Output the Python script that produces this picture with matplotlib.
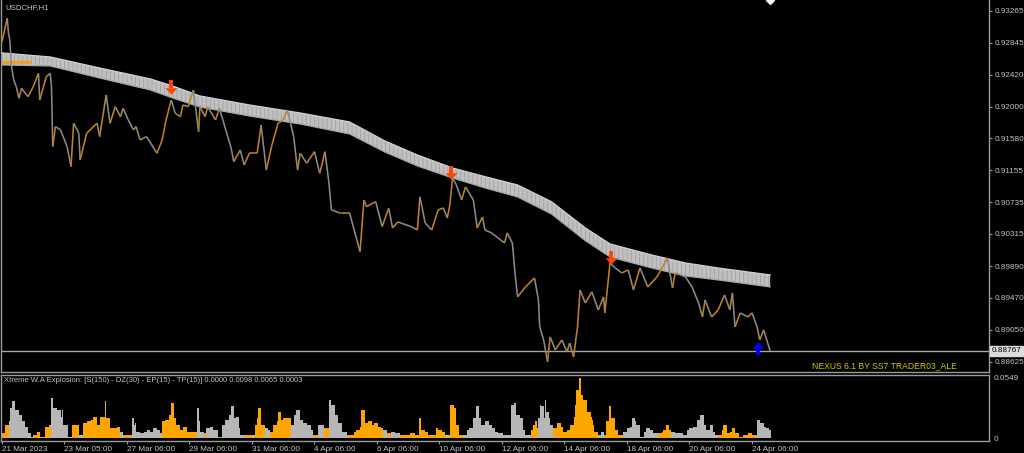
import matplotlib
matplotlib.use("Agg")
import matplotlib.pyplot as plt
import numpy as np
from matplotlib.collections import LineCollection
from matplotlib.path import Path
import matplotlib.transforms as mtransforms

# ---------------- data (bar index on H1 chart, prices) ----------------
symbol_title = "USDCHF,H1"
indicator_title = ("Xtreme W.A Explosion: [S(150) - DZ(30) - EP(15) - TP(15)] "
                   "0.0000 0.0098 0.0065 0.0003")
signature = "NEXUS 6.1 BY SS7 TRADER03_ALE"

price_idx = [0, 4, 5, 6, 7, 9, 11, 13, 15, 20,
             24, 28, 29, 34, 37, 38, 39, 41, 45, 50,
             53, 55, 59, 60, 65, 73, 75, 80, 83, 87,
             91, 93, 97, 101, 103, 106, 111, 119, 123, 126,
             130, 133, 137, 139, 143, 147, 151, 152, 156, 158,
             164, 167, 176, 178, 183, 186, 190, 196, 199, 203,
             207, 212, 216, 219, 221, 224, 227, 229, 234, 240,
             244, 246, 248, 251, 253, 260, 267, 275, 278, 280,
             287, 292, 297,
             300, 304, 315, 319, 321, 325, 330, 335, 339, 342,
             344, 346, 349, 353, 356, 362, 365, 369, 371, 376,
             381, 386, 388, 392, 394, 396, 402, 409, 412, 413,
             416, 419, 421, 425, 430, 434, 436, 439, 442, 444,
             448, 453, 458, 462, 463, 467, 471, 476, 481, 485,
             490, 496, 503, 507, 511, 515, 517, 525, 530, 535,
             538, 540, 545, 550, 555, 559, 561, 563, 567, 573,
             576, 580, 582, 585, 590]
price_close = [0.92859, 0.93169, 0.92970, 0.92882, 0.92574, 0.92353, 0.92264, 0.92110, 0.92243, 0.92132,
               0.92264, 0.92441, 0.92088, 0.92396, 0.92441, 0.92264, 0.91470, 0.91735, 0.91691, 0.91470,
               0.91206, 0.91780, 0.91647, 0.91294, 0.91647, 0.91780, 0.91603, 0.92154, 0.91780, 0.91999,
               0.91867, 0.91978, 0.91823, 0.91691, 0.91735, 0.91559, 0.91603, 0.91383, 0.91559, 0.91823,
               0.92088, 0.91912, 0.91867, 0.92022, 0.91999, 0.92220, 0.91669, 0.91999, 0.91867, 0.91999,
               0.91823, 0.91978, 0.91449, 0.91272, 0.91426, 0.91228, 0.91383, 0.91383, 0.91757, 0.91162,
               0.91470, 0.91780, 0.91823, 0.91956, 0.91823, 0.91603, 0.91162, 0.91383, 0.91251, 0.91404,
               0.91118, 0.91251, 0.91404, 0.91007, 0.90633, 0.90589, 0.90589, 0.90081, 0.90765, 0.90676,
               0.90743, 0.90412, 0.90655,
               0.90395, 0.90474, 0.90408, 0.90368, 0.90805, 0.90461, 0.90368, 0.90633, 0.90659, 0.90527,
               0.90699, 0.91056, 0.90963, 0.90765, 0.90937, 0.90765, 0.90395, 0.90540, 0.90368, 0.90328,
               0.90262, 0.90196, 0.90328, 0.90196, 0.89799, 0.89482, 0.89614, 0.89733, 0.89442, 0.89085,
               0.88913, 0.88622, 0.88953, 0.88781, 0.88913, 0.88754, 0.88873, 0.88688, 0.89085, 0.89574,
               0.89402, 0.89548, 0.89310, 0.89482, 0.89270, 0.89932, 0.89865, 0.89799, 0.89839, 0.89574,
               0.89865, 0.89614, 0.89746, 0.89865, 0.89998, 0.89601, 0.89799, 0.89746, 0.89614, 0.89402,
               0.89217, 0.89442, 0.89217, 0.89310, 0.89508, 0.89310, 0.89535, 0.89085, 0.89270, 0.89217,
               0.89270, 0.89085, 0.88913, 0.89045, 0.88767]

band_idx = [0, 37, 75, 114, 131, 152, 190, 229, 267, 294, 319, 346, 371, 396, 422, 448, 467, 499, 525, 550, 590]
band_upper = [0.92710, 0.92657, 0.92511, 0.92366, 0.92273, 0.92141, 0.92022, 0.91916, 0.91797, 0.91546,
              0.91360, 0.91188, 0.91073, 0.90963, 0.90742, 0.90395, 0.90183, 0.90037, 0.89931, 0.89865, 0.89773]
band_lower = [0.92551, 0.92538, 0.92379, 0.92220, 0.92115, 0.91995, 0.91876, 0.91770, 0.91638, 0.91400,
              0.91215, 0.91056, 0.90924, 0.90805, 0.90580, 0.90227, 0.90011, 0.89865, 0.89759, 0.89707, 0.89614]
ma_start_idx = [0, 22]
ma_start_price = [0.92591, 0.92591]

sell_idx = [130, 345, 468]
sell_price = [0.92260, 0.91129, 0.90004]
buy_idx = [581]
buy_price = [0.88793]
last_price = 0.88767

price_ticks = [0.93265, 0.92845, 0.92420, 0.92000, 0.91580, 0.91155,
               0.90735, 0.90315, 0.89890, 0.89470, 0.89050, 0.88625]
time_tick_idx = [0, 48, 96, 144, 192, 240, 288, 336, 384, 432, 480, 528, 576]
time_tick_labels = ["21 Mar 2023", "23 Mar 05:00", "27 Mar 06:00", "29 Mar 06:00",
                    "31 Mar 06:00", "4 Apr 06:00", "6 Apr 06:00", "10 Apr 06:00",
                    "12 Apr 06:00", "14 Apr 06:00", "18 Apr 06:00", "20 Apr 06:00",
                    "24 Apr 06:00"]

hist_idx = [0, 2, 5, 6, 8, 10, 13, 15, 18, 20, 22, 24, 27, 29, 33, 36, 38, 39, 42, 45,
            46, 47, 50, 51, 54, 56, 59, 62, 65, 68, 70, 73, 75, 79, 80, 83, 85, 88, 91, 93,
            94, 100, 101, 102, 103, 106, 109, 111, 114, 116, 119, 121, 123, 125, 128, 130, 132, 134, 137, 139,
            142, 146, 150, 151, 152, 155, 157, 160, 162, 166, 169, 171, 174, 176, 178, 180, 182, 183, 187, 192,
            194, 196, 197, 199, 202, 204, 206, 208, 211, 212, 214, 216, 219, 222, 224, 226, 229, 231, 234, 237,
            239, 243, 247, 251, 253, 256, 258, 261, 265, 267, 270, 272, 275, 276, 279, 281, 284, 286, 289, 291,
            293, 296, 299, 302, 306, 310, 313, 317, 320, 322, 325, 327, 333, 335, 338, 340, 344, 347, 349, 351,
            354, 357, 359, 362, 364, 366, 368, 371, 374, 376, 379, 381, 385, 389, 391, 393, 395, 398, 400, 402,
            406, 408, 409, 411, 412, 413, 414, 416, 417, 418, 420, 421, 423, 426, 429, 431, 434, 436, 439, 440,
            441, 443, 445, 446, 449, 452, 453, 454, 455, 458, 460, 462, 464, 466, 468, 471, 473, 477, 480, 482,
            484, 486, 487, 490, 493, 495, 498, 500, 504, 507, 508, 510, 512, 514, 517, 521, 523, 526, 528, 531,
            534, 536, 539, 541, 544, 546, 548, 550, 553, 554, 557, 559, 561, 563, 566, 569, 573, 576, 580, 582,
            585, 587, 589]
hist_value = [0.0046, 0.0122, 0.0153, 0.0275, 0.0336, 0.0259, 0.0214, 0.0153, 0.0107, 0.0046,
              0.0015, 0.0031, 0.0061, 0.0015, 0.0107, 0.0122, 0.0366, 0.0275, 0.0259, 0.0198,
              0.0259, 0.0122, 0.0122, 0.0015, 0.0122, 0.0122, 0.0031, 0.0137, 0.0153, 0.0168,
              0.0198, 0.0122, 0.0198, 0.0336, 0.0183, 0.0092, 0.0092, 0.0107, 0.0061, 0.0031,
              0.0031, 0.0183, 0.0122, 0.0137, 0.0061, 0.0046, 0.0061, 0.0076, 0.0061, 0.0092,
              0.0076, 0.0046, 0.0153, 0.0168, 0.0214, 0.0320, 0.0183, 0.0122, 0.0076, 0.0107,
              0.0061, 0.0061, 0.0275, 0.0153, 0.0061, 0.0046, 0.0092, 0.0107, 0.0076, 0.0015,
              0.0122, 0.0168, 0.0214, 0.0290, 0.0183, 0.0198, 0.0092, 0.0031, 0.0031, 0.0031,
              0.0122, 0.0183, 0.0275, 0.0122, 0.0092, 0.0076, 0.0061, 0.0122, 0.0153, 0.0244,
              0.0168, 0.0183, 0.0183, 0.0122, 0.0214, 0.0259, 0.0168, 0.0137, 0.0122, 0.0076,
              0.0031, 0.0122, 0.0092, 0.0351, 0.0305, 0.0214, 0.0137, 0.0061, 0.0031, 0.0031,
              0.0061, 0.0076, 0.0107, 0.0259, 0.0137, 0.0153, 0.0122, 0.0137, 0.0107, 0.0092,
              0.0076, 0.0046, 0.0061, 0.0046, 0.0031, 0.0031, 0.0046, 0.0031, 0.0183, 0.0076,
              0.0061, 0.0031, 0.0092, 0.0076, 0.0061, 0.0031, 0.0305, 0.0275, 0.0122, 0.0031,
              0.0031, 0.0076, 0.0092, 0.0183, 0.0290, 0.0183, 0.0122, 0.0153, 0.0122, 0.0092,
              0.0061, 0.0046, 0.0031, 0.0031, 0.0305, 0.0320, 0.0214, 0.0183, 0.0076, 0.0031,
              0.0076, 0.0122, 0.0153, 0.0092, 0.0183, 0.0305, 0.0290, 0.0183, 0.0351, 0.0244,
              0.0183, 0.0122, 0.0092, 0.0137, 0.0107, 0.0061, 0.0076, 0.0122, 0.0198, 0.0305,
              0.0442, 0.0549, 0.0397, 0.0351, 0.0244, 0.0198, 0.0168, 0.0122, 0.0061, 0.0031,
              0.0061, 0.0031, 0.0153, 0.0290, 0.0183, 0.0076, 0.0031, 0.0061, 0.0092, 0.0107,
              0.0183, 0.0153, 0.0122, 0.0015, 0.0061, 0.0092, 0.0076, 0.0046, 0.0046, 0.0061,
              0.0076, 0.0122, 0.0076, 0.0061, 0.0046, 0.0046, 0.0031, 0.0076, 0.0092, 0.0107,
              0.0168, 0.0214, 0.0122, 0.0076, 0.0122, 0.0061, 0.0031, 0.0031, 0.0076, 0.0122,
              0.0046, 0.0061, 0.0092, 0.0046, 0.0015, 0.0031, 0.0046, 0.0031, 0.0168, 0.0137,
              0.0107, 0.0092, 0.0076]
# u = rising-pressure bar (orange), d = falling (silver)
hist_side = ("uuddddddddd" "uuuuu" "dddddddd" "uu" "d" "uuuuuuuuuuu" "dd" "u"
             "ddddddddddd" "uuuuuuuuuu" "ddd" "u" "ddd" "u" "dddddddd" "u" "d" "uuuu" "dd"
             "uuuuuuu" "ddddddd" "u" "d" "u" "ddddd" "uuuuuuuuuuuu" "d" "u" "dd"
             "uuuuuuuuuuu" "d" "uuuu" "dddddddddddddddddddd" "uuuu" "dddddddd"
             "uuuuuuuuuuuuuuuuu" "dd" "uuuuuu" "ddddddddddd" "uuuuu" "dddddddddddddd"
             "uuuuuuuuuuu" "ddddd")
hist_end_idx = 591
ind_max = 0.0549

# ---------------- layout / style ----------------
W, H = 1024, 453
X0_PX, PX_PER_BAR = 2.0, 1.302
Y0_PRICE, PRICE_PER_PX = 0.934105, 0.00013231

FONT = ["Liberation Sans", "DejaVu Sans"]
FS = 5.9
BG = "black"
FRAME = "#9a9a9a"
TXT = "#c4c4c4"
UP = "#c2821f"
DN = "#8a8a8a"
H_UP = "#ffa500"
H_DN = "#b6b6b6"


def rect(x0, y0, x1, y1):
    return [x0 / W, 1 - y1 / H, (x1 - x0) / W, (y1 - y0) / H]


def px2idx(x):
    return (x - X0_PX) / PX_PER_BAR


fig = plt.figure(figsize=(W / 100, H / 100), dpi=100, facecolor=BG)
ax = fig.add_axes(rect(1, 0, 989, 372), facecolor=BG)
ax2 = fig.add_axes(rect(1, 375, 989, 441), facecolor=BG)

xlim = (px2idx(1), px2idx(989))
for a in (ax, ax2):
    a.set_xlim(*xlim)
    for s in a.spines.values():
        s.set_color(FRAME)
        s.set_linewidth(1.0)
ax.spines["top"].set_visible(False)
ax.set_ylim(Y0_PRICE - 372 * PRICE_PER_PX, Y0_PRICE)

# ---- MA ribbon ----
plt.rcParams["hatch.linewidth"] = 0.5
ax.fill_between(band_idx, band_lower, band_upper, facecolor="#c0c0c0",
                edgecolor="#9c9c9c", hatch="||||", linewidth=0, zorder=2)
ax.plot(band_idx, band_upper, color="#d2d2d2", lw=0.9, zorder=3)
ax.plot(band_idx, band_lower, color="#a8a8a8", lw=0.9, zorder=3)
ax.plot(ma_start_idx, ma_start_price, color="#f0a020", lw=2.2, zorder=3, solid_capstyle="butt")

# ---- price line, coloured by direction ----
pts = np.column_stack([price_idx, price_close])
segs = np.stack([pts[:-1], pts[1:]], axis=1)
cols = [UP if b >= a else DN for a, b in zip(price_close[:-1], price_close[1:])]
ax.add_collection(LineCollection(segs, colors=cols, linewidths=1.15, zorder=4))

# ---- last price line ----
ax.axhline(last_price, color="#a8a8a8", lw=1.0, zorder=1)

# ---- signal arrows (shaft + triangular head) ----
head_down = Path([(-1, 0.55), (1, 0.55), (0, -0.55), (-1, 0.55)],
                 [Path.MOVETO, Path.LINETO, Path.LINETO, Path.CLOSEPOLY])
head_up = Path([(-1, -0.55), (1, -0.55), (0, 0.55), (-1, -0.55)],
               [Path.MOVETO, Path.LINETO, Path.LINETO, Path.CLOSEPOLY])
p = PRICE_PER_PX
for xi, yi in zip(sell_idx, sell_price):
    ax.plot([xi, xi], [yi + 6.5 * p, yi - 1.5 * p], color="#ff4500", lw=2.8,
            solid_capstyle="butt", zorder=6)
    ax.plot([xi], [yi - 3.6 * p], marker=head_down, color="#ff4500", ms=8.5, mew=0, zorder=6)
for xi, yi in zip(buy_idx, buy_price):
    ax.plot([xi, xi], [yi - 6.5 * p, yi + 1.5 * p], color="#0000ff", lw=2.8,
            solid_capstyle="butt", zorder=6)
    ax.plot([xi], [yi + 3.6 * p], marker=head_up, color="#0000ff", ms=8.5, mew=0, zorder=6)
ax.plot([price_idx[-1]], [Y0_PRICE], marker="D", color="white", ms=4.5, zorder=6)

# ---- price axis ----
ax.yaxis.tick_right()
ax.set_yticks(price_ticks)
ax.set_yticklabels([f"{v:.5f}" for v in price_ticks])
ax.tick_params(axis="y", direction="out", length=2.5, width=0.8, color=FRAME,
               labelcolor=TXT, labelsize=FS, pad=1.5)
for t in ax.get_yticklabels():
    t.set_fontfamily(FONT)
ax.set_xticks([])

trans = mtransforms.blended_transform_factory(ax.transAxes, ax.transData)
ax.text(1.003, last_price, f"{last_price:.5f}", transform=trans, ha="left", va="center",
        fontsize=FS, fontfamily=FONT, color="black", zorder=7,
        bbox=dict(boxstyle="square,pad=0.18", facecolor="#dcdcdc", edgecolor="#dcdcdc"))

fig.text(5 / W, 1 - 7.5 / H, symbol_title, color=TXT, fontsize=5.6, fontfamily=FONT,
         ha="left", va="center")
fig.text(957 / W, 1 - 365.5 / H, signature, color="#cccc00", fontsize=6.2,
         fontfamily=FONT, ha="right", va="center")

# ---- indicator histogram ----
assert len(hist_idx) == len(hist_value) == len(hist_side)
edges = list(hist_idx) + [hist_end_idx]
widths = np.diff(edges)
hcols = [H_UP if s == "u" else H_DN for s in hist_side]
ax2.bar(hist_idx, hist_value, width=widths, align="edge", color=hcols, linewidth=0, zorder=2)
per_px = ind_max / 60.3
ax2.set_ylim(-2.7 * per_px, ind_max + 3.0 * per_px)
ax2.yaxis.tick_right()
ax2.set_yticks([0, ind_max])
ax2.set_yticklabels(["0", f"{ind_max:.4f}"])
ax2.tick_params(axis="y", length=0, labelcolor=TXT, labelsize=FS, pad=3)
ax2.set_xticks(time_tick_idx)
ax2.set_xticklabels(time_tick_labels, ha="left")
ax2.tick_params(axis="x", direction="out", length=2.5, width=0.8, color=FRAME,
                labelcolor=TXT, labelsize=FS, pad=1.0)
for t in ax2.get_xticklabels() + ax2.get_yticklabels():
    t.set_fontfamily(FONT)
fig.text(4 / W, 1 - 381 / H, indicator_title, color=TXT, fontsize=5.5, fontfamily=FONT,
         ha="left", va="center")

fig.savefig("out.png", dpi=100, facecolor=BG)
